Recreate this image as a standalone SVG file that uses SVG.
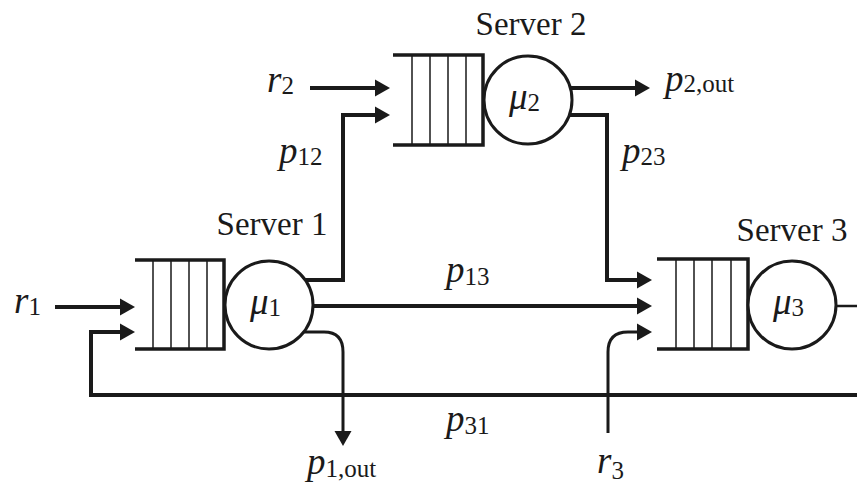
<svg xmlns="http://www.w3.org/2000/svg" width="857" height="483" viewBox="0 0 857 483">
<defs>
<marker id="ah" viewBox="0 -9 16 18" refX="0" refY="0" markerWidth="16" markerHeight="18" markerUnits="userSpaceOnUse" orient="auto">
<path d="M0,-8.5 L15,0 L0,8.5 z" fill="#1a1a1a"/>
</marker>
</defs>
<style>
.q{fill:none;stroke:#1a1a1a;stroke-width:3.5}
.qs{stroke:#1a1a1a;stroke-width:1.5}
.srv{fill:#fff;stroke:#1a1a1a;stroke-width:3}
.c{fill:none;stroke:#1a1a1a;stroke-width:4}
.ct{fill:none;stroke:#1a1a1a;stroke-width:3}
.lbl{font-family:"Liberation Serif","Times New Roman",serif;font-size:33px;fill:#1a1a1a}
.m{font-family:"Liberation Serif","Times New Roman",serif;font-size:37px;font-style:italic;fill:#1a1a1a}
.s{font-family:"Liberation Serif","Times New Roman",serif;font-size:25px;font-style:normal;fill:#1a1a1a}
</style>
<rect width="857" height="483" fill="#fff"/>
<g id="connectors">
<path class="c" d="M55,307 H120" marker-end="url(#ah)"/>
<path class="c" d="M857,395 H91 V332 H120" marker-end="url(#ah)"/>
<path class="c" d="M310,88 H375" marker-end="url(#ah)"/>
<path class="c" d="M304,280 H343 V115 H375" marker-end="url(#ah)"/>
<path class="c" d="M313,306 H637" marker-end="url(#ah)"/>
<path class="ct" d="M304,332 H324 Q343,332 343,352 V431" marker-end="url(#ah)"/>
<path class="c" d="M571,88 H635" marker-end="url(#ah)"/>
<path class="c" d="M569,115 H607 V280 H637" marker-end="url(#ah)"/>
<path class="ct" d="M608,433 V352 Q608,332 628,332 H637" marker-end="url(#ah)"/>
<path class="ct" style="stroke-width:2.5" d="M836,306 H857"/>
</g>
<g id="server1">
<path class="q" d="M135,260 H224 V349 H135"/>
<path class="qs" d="M153,260 V349 M171,260 V349 M189,260 V349 M207,260 V349"/>
<circle class="srv" cx="269" cy="305" r="44"/>
<text class="lbl" x="272" y="235" text-anchor="middle">Server 1</text>
<text class="m" x="250" y="314">μ<tspan class="s" dy="2">1</tspan></text>
</g>
<g id="server2">
<path class="q" d="M393,55 H483 V145 H393"/>
<path class="qs" d="M412,55 V145 M430,55 V145 M448,55 V145 M466,55 V145"/>
<circle class="srv" cx="528" cy="100" r="44"/>
<text class="lbl" x="531" y="35" text-anchor="middle">Server 2</text>
<text class="m" x="509" y="109">μ<tspan class="s" dy="2">2</tspan></text>
</g>
<g id="server3">
<path class="q" d="M657,259 H748 V349 H657"/>
<path class="qs" d="M676,259 V349 M694,259 V349 M712,259 V349 M731,259 V349"/>
<circle class="srv" cx="792" cy="305" r="44"/>
<text class="lbl" x="792" y="241" text-anchor="middle">Server 3</text>
<text class="m" x="773" y="314">μ<tspan class="s" dy="2">3</tspan></text>
</g>
<g id="labels">
<text class="m" x="14" y="313">r<tspan class="s" dy="2">1</tspan></text>
<text class="m" x="267" y="92">r<tspan class="s" dy="2">2</tspan></text>
<text class="m" x="597" y="473">r<tspan class="s" dy="6">3</tspan></text>
<text class="m" x="279" y="163">p<tspan class="s" dy="2">12</tspan></text>
<text class="m" x="622" y="163">p<tspan class="s" dy="2">23</tspan></text>
<text class="m" x="446" y="282">p<tspan class="s" dy="3">13</tspan></text>
<text class="m" x="446" y="431">p<tspan class="s" dy="3">31</tspan></text>
<text class="m" x="665" y="91">p<tspan class="s" dy="1">2,out</tspan></text>
<text class="m" x="307" y="474">p<tspan class="s" dy="3">1,out</tspan></text>
</g>
</svg>
